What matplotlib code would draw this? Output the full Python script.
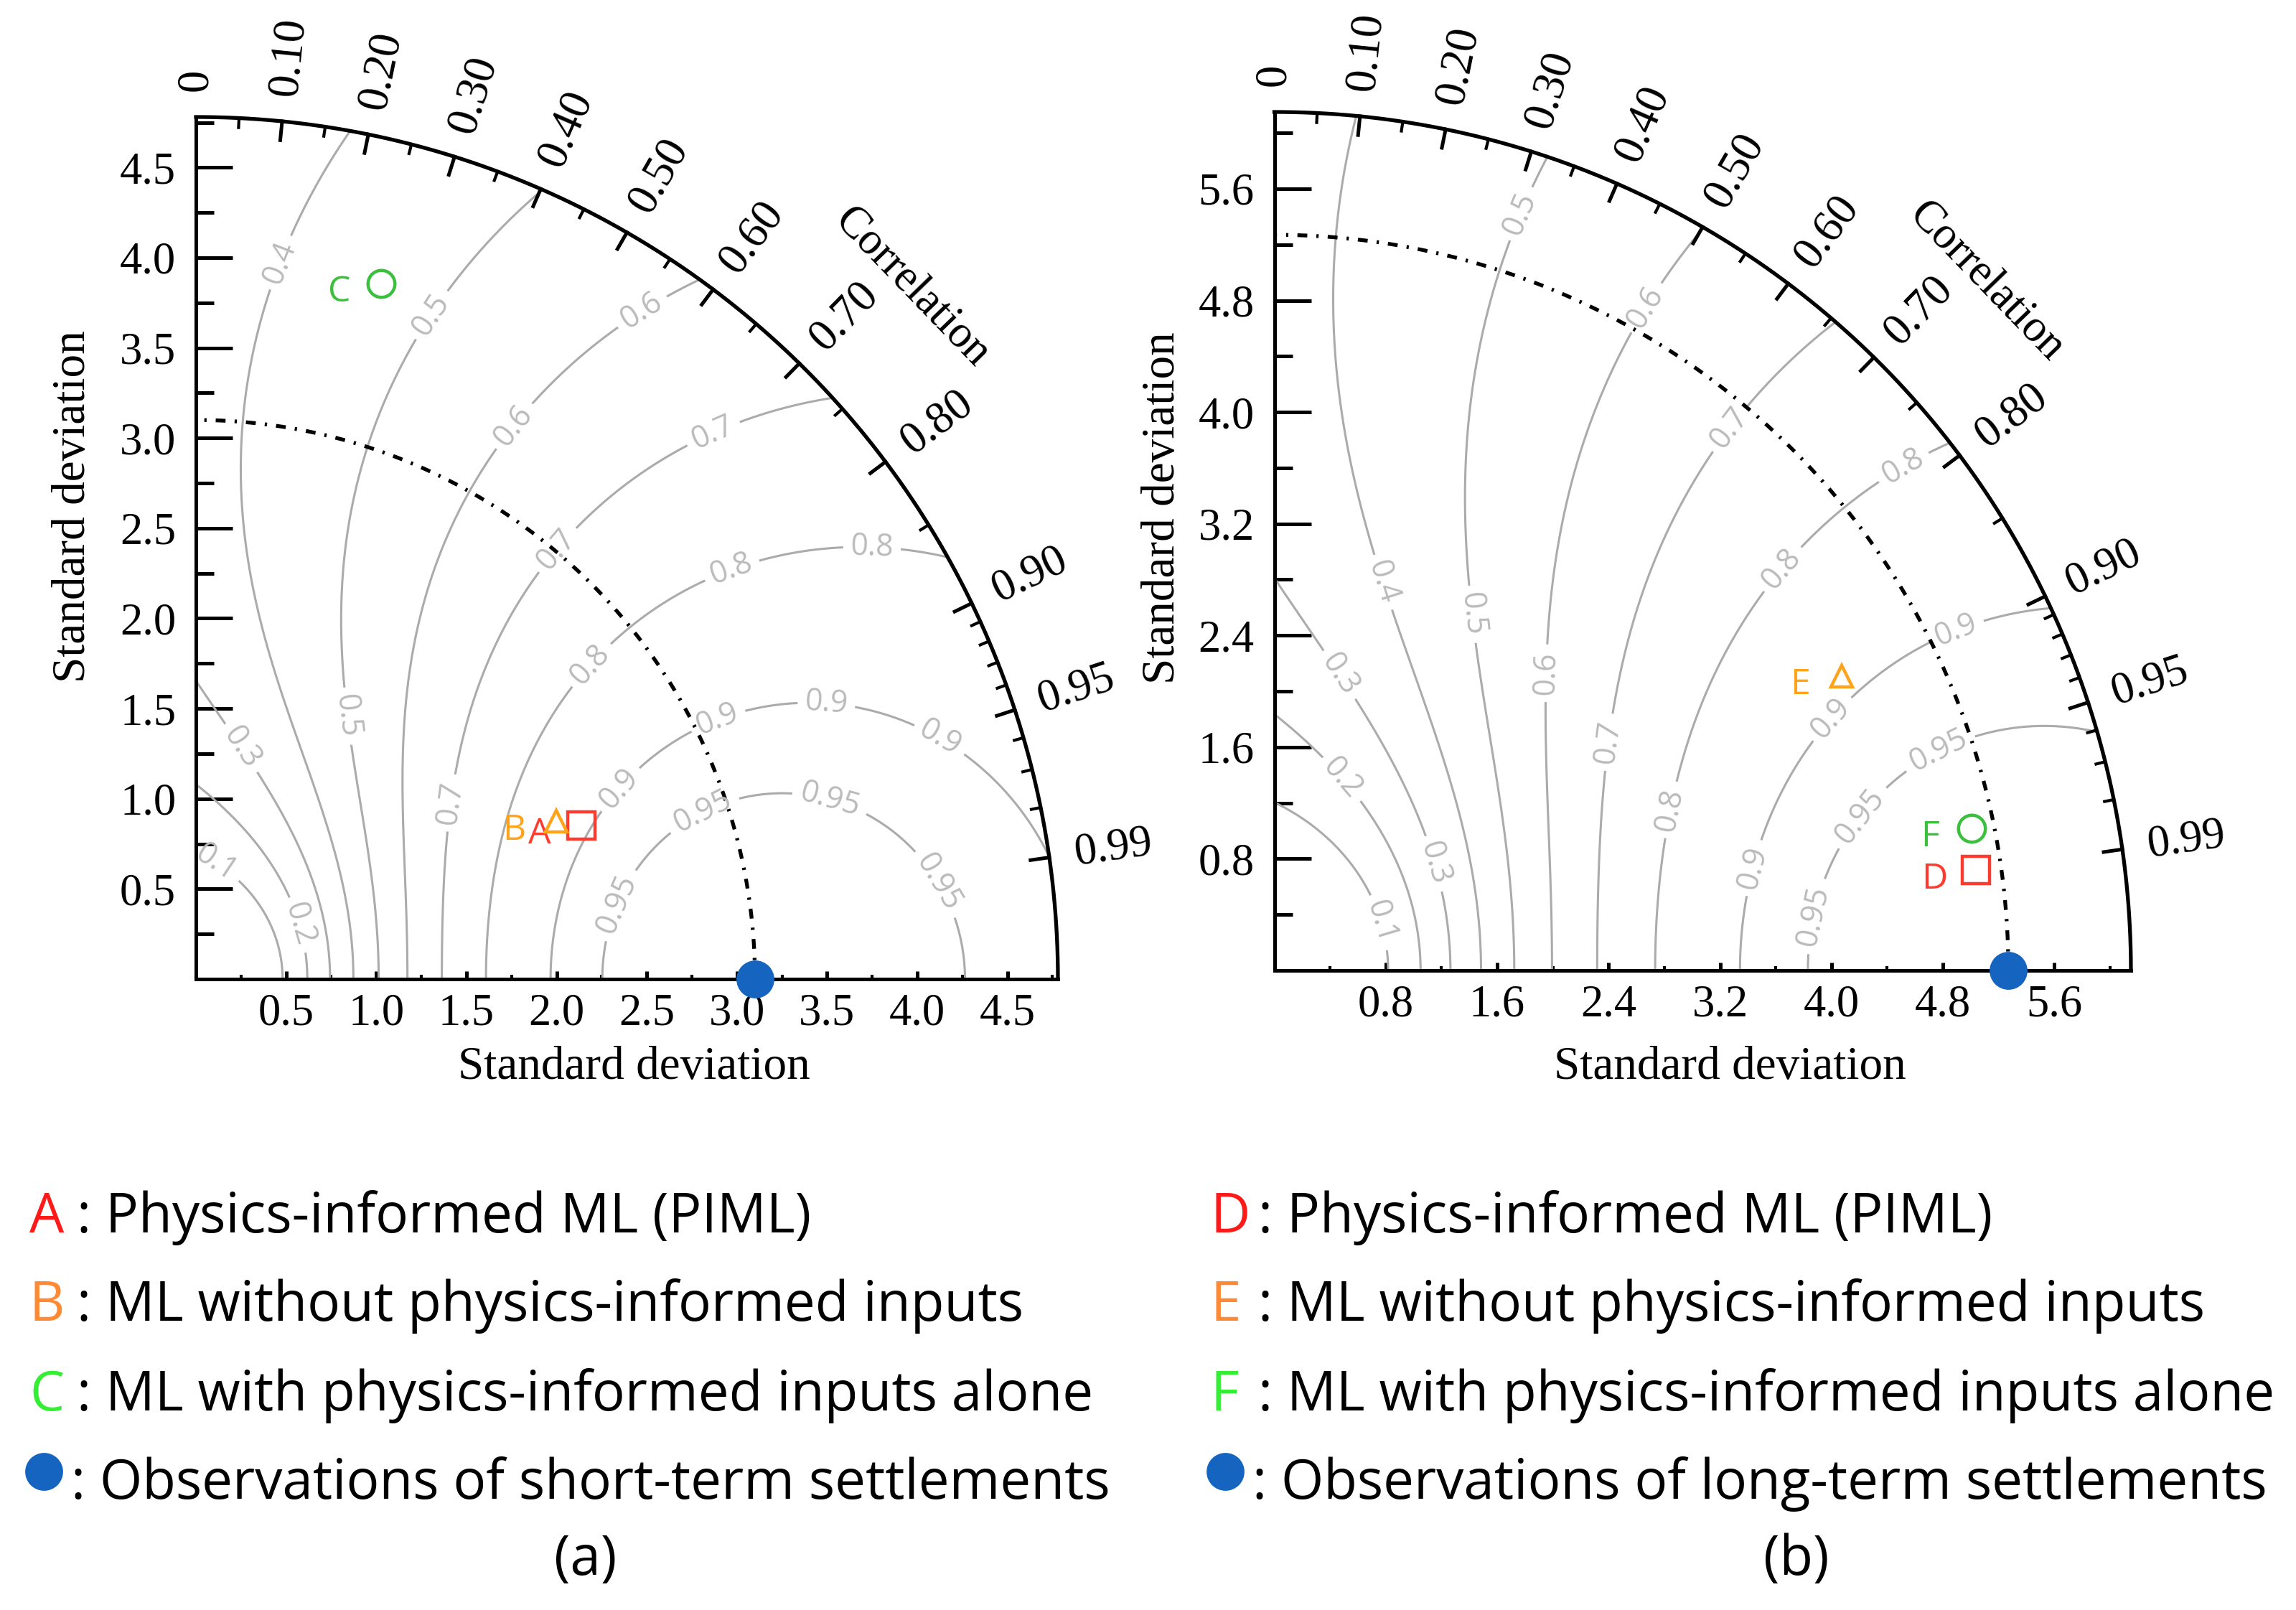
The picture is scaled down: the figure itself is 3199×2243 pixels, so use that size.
import numpy as np
import matplotlib
matplotlib.use("Agg")
import matplotlib.pyplot as plt
from matplotlib.ticker import MultipleLocator

# panel (a): short-term settlements
names_a = ["A", "B", "C"]
std_a = [2.30, 2.18, 3.99]
corr_a = [0.929, 0.916, 0.257]
ref_a = 3.10
rmax_a = 4.78

# panel (b): long-term settlements
names_b = ["D", "E", "F"]
std_b = [5.09, 4.59, 5.11]
corr_b = [0.990, 0.888, 0.980]
ref_b = 5.27
rmax_b = 6.15

markers = ["s", "^", "o"]
point_colors = ["#FF3B30", "#FFA31A", "#3CBF3C"]
legend_colors = ["#FF1A1A", "#FF8A33", "#33EE33"]
obs_color = "#1565C0"

skill_levels = [0.1, 0.2, 0.3, 0.4, 0.5, 0.6, 0.7, 0.8, 0.9, 0.95]
corr_ticks = [0, 0.1, 0.2, 0.3, 0.4, 0.5, 0.6, 0.7, 0.8, 0.9, 0.95, 0.99]
corr_labels = ["0", "0.10", "0.20", "0.30", "0.40", "0.50", "0.60", "0.70",
               "0.80", "0.90", "0.95", "0.99"]
corr_minor = [0.05, 0.15, 0.25, 0.35, 0.45, 0.55, 0.65, 0.75, 0.85,
              0.91, 0.92, 0.93, 0.94, 0.96, 0.97, 0.98]

descriptions = ["Physics-informed ML (PIML)",
                "ML without physics-informed inputs",
                "ML with physics-informed inputs alone"]
obs_text_a = "Observations of short-term settlements"
obs_text_b = "Observations of long-term settlements"

# where the inline contour labels sit (data coords)
clabel_pos_a = [(0.09, 0.61), (0.60, 0.31), (0.25, 1.28), (0.45, 3.98),
                (0.86, 1.46), (1.28, 3.70), (1.76, 3.07), (2.45, 3.74),
                (1.39, 0.98), (1.98, 2.40), (2.85, 3.07),
                (2.16, 1.77), (2.95, 2.33), (3.75, 2.42),
                (2.32, 1.08), (2.87, 1.50), (3.50, 1.58), (4.13, 1.34),
                (2.30, 0.43), (2.79, 0.97), (3.52, 1.00), (4.11, 0.53)]
clabel_pos_b = [(0.78, 0.35), (0.45, 1.34), (0.44, 2.10), (1.20, 0.78),
                (0.78, 2.78), (1.41, 2.55), (1.75, 5.43), (1.93, 2.13),
                (2.65, 4.76), (2.36, 1.64), (3.25, 3.90),
                (2.80, 1.16), (3.63, 2.89), (4.51, 3.62),
                (3.38, 0.75), (3.96, 1.84), (4.88, 2.48),
                (3.83, 0.40), (4.20, 1.11), (4.75, 1.62)]

SERIF = "Liberation Serif"
SANS = "Open Sans"

W, H = 3199, 2243
fig = plt.figure(figsize=(W / 200, H / 200), dpi=200)


def taylor(rect, rmax, ref, std, corr, names, major, clabel_pos, xlab_pos, ylab_pos):
    ax = fig.add_axes(rect)
    ax.set_xlim(0, rmax)
    ax.set_ylim(0, rmax)
    for s in ["top", "right"]:
        ax.spines[s].set_visible(False)
    for s in ["left", "bottom"]:
        ax.spines[s].set_linewidth(1.8)
    ax.xaxis.set_minor_locator(MultipleLocator(major / 2))
    ax.yaxis.set_minor_locator(MultipleLocator(major / 2))
    ax.tick_params(axis="y", which="major", direction="in", length=18.5, width=1.8, pad=10, labelsize=22.5)
    ax.tick_params(axis="y", which="minor", direction="in", length=9, width=1.8)
    ax.tick_params(axis="x", which="major", direction="in", length=4, width=1.8, pad=7, labelsize=22.5)
    ax.tick_params(axis="x", which="minor", direction="in", length=2, width=1.5)
    ticks = [t for t in np.arange(major, rmax, major)]
    ax.set_xticks(ticks)
    ax.set_yticks(ticks)
    ax.set_xticklabels([f"{t:.1f}" for t in ticks], family=SERIF)
    ax.set_yticklabels([f"{t:.1f}" for t in ticks], family=SERIF)

    # skill score field
    rr = np.linspace(0.005, rmax, 400)
    th = np.linspace(0, np.pi / 2, 400)
    R, TH = np.meshgrid(rr, th)
    X, Y = R * np.cos(TH), R * np.sin(TH)
    S = np.exp(np.cos(TH) - (R / ref + ref / R) / 2)
    cs = ax.contour(X, Y, S, levels=skill_levels, colors="#ABABAB", linewidths=1.1)
    lbls = ax.clabel(cs, fmt=lambda v: f"{v:g}", fontsize=15.5, colors="#BBBBBB",
                     inline=True, inline_spacing=6, manual=clabel_pos)
    for t in lbls:
        t.set_family(SANS)

    # outer arc with correlation ticks
    t = np.linspace(0, np.pi / 2, 500)
    ax.plot(rmax * np.cos(t), rmax * np.sin(t), color="k", lw=1.9, clip_on=False)
    for c, lab in zip(corr_ticks, corr_labels):
        a = np.arccos(c)
        ax.plot([rmax * 0.978 * np.cos(a), rmax * np.cos(a)],
                [rmax * 0.978 * np.sin(a), rmax * np.sin(a)], color="k", lw=1.8, clip_on=False)
        ax.text(1.03 * rmax * np.cos(a), 1.03 * rmax * np.sin(a), lab, rotation=np.degrees(a),
                rotation_mode="anchor", ha="left", va="center", fontsize=22.5, family=SERIF)
    for c in corr_minor:
        a = np.arccos(c)
        ax.plot([rmax * 0.989 * np.cos(a), rmax * np.cos(a)],
                [rmax * 0.989 * np.sin(a), rmax * np.sin(a)], color="k", lw=1.5, clip_on=False)
    a = np.radians(44)
    ax.text(1.155 * rmax * np.cos(a), 1.155 * rmax * np.sin(a), "Correlation", rotation=-46,
            rotation_mode="anchor", ha="center", va="center", fontsize=22.5, family=SERIF)

    # reference std arc
    ax.plot(ref * np.cos(t), ref * np.sin(t), color="k", lw=1.9, dashes=(2.6, 2.4, 0.6, 2.4))

    # models
    for name, s, c, m, col in zip(names, std, corr, markers, point_colors):
        x, y = s * c, s * np.sqrt(1 - c ** 2)
        ms = 10.5 if m == "^" else 13.5
        ax.plot(x, y, marker=m, ms=ms, mfc="none", mec=col, mew=1.6, zorder=6)
        ax.annotate(name, (x, y), xytext=(-21, -4.5), textcoords="offset points",
                    ha="center", va="center", color=col, fontsize=18, family=SANS)
    ax.plot(ref, 0, "o", ms=18, color=obs_color, clip_on=False, zorder=10)

    ax.text(xlab_pos[0], xlab_pos[1], "Standard deviation", transform=ax.transAxes,
            ha="center", va="center", fontsize=23.5, family=SERIF)
    ax.text(ylab_pos[0], ylab_pos[1], "Standard deviation", transform=ax.transAxes, rotation=90,
            ha="center", va="center", fontsize=23.5, family=SERIF)
    return ax


taylor([273 / W, 1 - 1364 / H, 1201 / W, 1201 / H], rmax_a, ref_a, std_a, corr_a, names_a,
       0.5, clabel_pos_a, (0.508, -0.103), (-0.142, 0.548))
taylor([1775.5 / W, 1 - 1352 / H, 1193.5 / W, 1196 / H], rmax_b, ref_b, std_b, corr_b, names_b,
       0.8, clabel_pos_b, (0.532, -0.113), (-0.130, 0.539))

# legends below the panels, pixel layout
lax = fig.add_axes([0, 0, 1, 1])
lax.set_xlim(0, W)
lax.set_ylim(H, 0)
lax.axis("off")

baselines = [1717, 1840, 1965]
fs = 27.5
for col0, names, obs_text, tag, tag_x in [(41, names_a, obs_text_a, "(a)", 816),
                                          (1687, names_b, obs_text_b, "(b)", 2503)]:
    for name, desc, lc, yb in zip(names, descriptions, legend_colors, baselines):
        lax.text(col0, yb, name, color=lc, fontsize=fs, family=SANS, va="baseline", ha="left")
        lax.text(col0 + 66, yb, ": " + desc, color="k", fontsize=fs, family=SANS,
                 va="baseline", ha="left")
    lax.plot(col0 + 20, 2050, "o", ms=18, color=obs_color)
    lax.text(col0 + 58, 2088, ": " + obs_text, color="k", fontsize=fs, family=SANS,
             va="baseline", ha="left")
    lax.text(tag_x, 2194, tag, color="k", fontsize=fs, family=SANS, va="baseline", ha="center")

fig.savefig("out.png", dpi=200)
